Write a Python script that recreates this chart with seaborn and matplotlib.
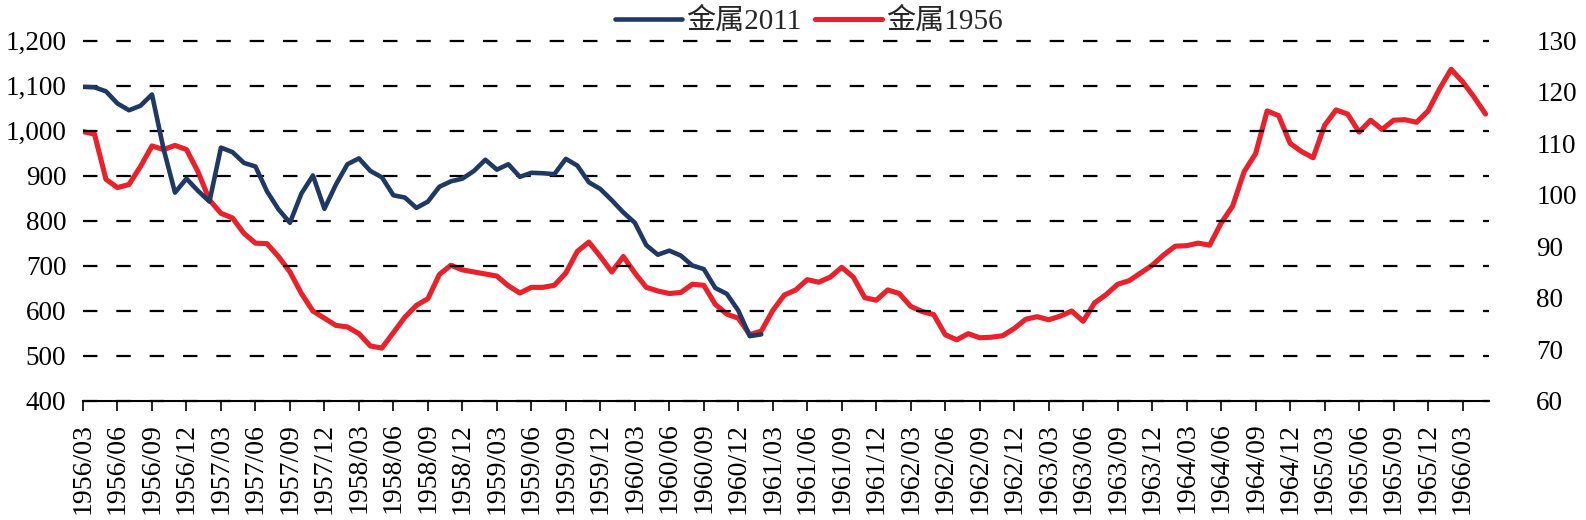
import numpy as np
import pandas as pd
import matplotlib
matplotlib.use("Agg")
import matplotlib.pyplot as plt
import seaborn as sns

# monthly categories 1956/03 .. 1966/05
months = pd.date_range("1956-03-01", periods=123, freq="MS").strftime("%Y/%m").tolist()

# left axis series (ends 1961/02)
metal_2011 = [
    1097, 1096, 1087, 1060, 1045, 1055, 1080, 960, 862, 893,
    866, 842, 962, 952, 928, 920, 865, 825, 795, 860,
    900, 826, 880, 925, 938, 910, 896, 856, 851, 828,
    842, 875, 887, 893, 910, 935, 913, 925, 897, 906,
    905, 903, 937, 922, 885, 870, 845, 818, 795, 745,
    724, 733, 722, 700, 692, 650, 637, 600, 543, 547,
]

# right axis series
metal_1956 = [
    112.3, 111.8, 103.0, 101.4, 102.0, 105.5, 109.5, 108.8, 109.6, 108.8,
    104.5, 99.0, 96.4, 95.5, 92.5, 90.6, 90.5, 88.0, 85.0, 80.8,
    77.4, 76.0, 74.6, 74.3, 73.0, 70.6, 70.2, 73.2, 76.2, 78.5,
    79.8, 84.5, 86.3, 85.4, 85.0, 84.6, 84.2, 82.3, 80.9, 82.0,
    82.0, 82.4, 84.8, 89.0, 90.8, 88.0, 85.0, 88.0, 84.8, 82.0,
    81.3, 80.8, 81.0, 82.6, 82.4, 78.7, 76.8, 76.0, 72.8, 73.5,
    77.5, 80.5, 81.5, 83.5, 83.0, 84.0, 85.9, 84.0, 80.0, 79.5,
    81.5, 80.8, 78.3, 77.3, 76.7, 72.8, 71.8, 73.0, 72.2, 72.3,
    72.6, 74.0, 75.8, 76.3, 75.7, 76.4, 77.4, 75.4, 79.0, 80.6,
    82.6, 83.3, 84.8, 86.3, 88.3, 90.0, 90.1, 90.6, 90.2, 94.5,
    97.8, 104.5, 108.0, 116.3, 115.4, 110.0, 108.4, 107.2, 113.5, 116.5,
    115.7, 112.2, 114.5, 112.7, 114.5, 114.6, 114.1, 116.3, 120.6, 124.4,
    122.0, 119.0, 115.7,
]

left_ticks = [400, 500, 600, 700, 800, 900, 1000, 1100, 1200]
left_labels = ["400", "500", "600", "700", "800", "900", "1,000", "1,100", "1,200"]
right_ticks = [60, 70, 80, 90, 100, 110, 120, 130]

BLUE = "#203864"
RED = "#E8212B"

sns.set_style("white")
plt.rcParams["font.family"] = ["Liberation Serif", "Noto Sans CJK SC"]

df = pd.DataFrame({
    "idx": np.arange(len(months)),
    "month": months,
    "金属2011": metal_2011 + [np.nan] * (len(months) - len(metal_2011)),
    "金属1956": metal_1956,
})

fig = plt.figure(figsize=(15.86, 5.2), dpi=100)
ax = fig.add_axes([83 / 1586, 119.5 / 520, 1406 / 1586, 360 / 520])
ax2 = ax.twinx()

sns.lineplot(data=df, x="idx", y="金属1956", ax=ax2, color=RED, lw=3.7, legend=False)
sns.lineplot(data=df.dropna(), x="idx", y="金属2011", ax=ax, color=BLUE, lw=3.3, legend=False)
for ln in ax.lines + ax2.lines:
    ln.set_solid_joinstyle("round")

# blue line and dashed grid above the red series
ax.set_zorder(ax2.get_zorder() + 1)
ax.patch.set_visible(False)

ax.set_xlim(0, 122.3)
ax.set_ylim(400, 1200)
ax.set_yticks(left_ticks)
ax.set_yticklabels(left_labels)
ax2.set_ylim(60, 130)
ax2.set_yticks(right_ticks)

xt = list(range(0, len(months), 3))
ax.set_xticks(xt)
ax.set_xticklabels([months[i] for i in xt], rotation=90)

ax.grid(axis="y", color="black", linestyle=(0, (6.5, 8.5)), lw=1.6)
ax.grid(axis="x", visible=False)
ax2.grid(False)
for gl in ax.get_ygridlines():
    gl.set_clip_on(False)

for s in ["left", "right", "top"]:
    ax.spines[s].set_visible(False)
for s in ax2.spines.values():
    s.set_visible(False)
ax.spines["bottom"].set_color("black")
ax.spines["bottom"].set_linewidth(1.5)
ax.spines["bottom"].set_zorder(3)

ax.tick_params(axis="y", length=0, pad=12, labelsize=19.5, labelcolor="black")
ax2.tick_params(axis="y", length=0, pad=34, labelsize=19.5, labelcolor="black")
ax.tick_params(axis="x", bottom=True, length=7, width=1.2, color="black",
               direction="out", pad=9, labelsize=20, labelcolor="black")
ax.set_xlabel("")
ax.set_ylabel("")
ax2.set_ylabel("")

fig.legend([ax.lines[0], ax2.lines[0]], ["金属2011", "金属1956"],
           loc="upper center", bbox_to_anchor=(0.51, 1.035), ncol=2,
           frameon=False, fontsize=21, handlelength=2.3, handletextpad=0.15,
           columnspacing=0.45)

fig.savefig("out.png", dpi=100)
